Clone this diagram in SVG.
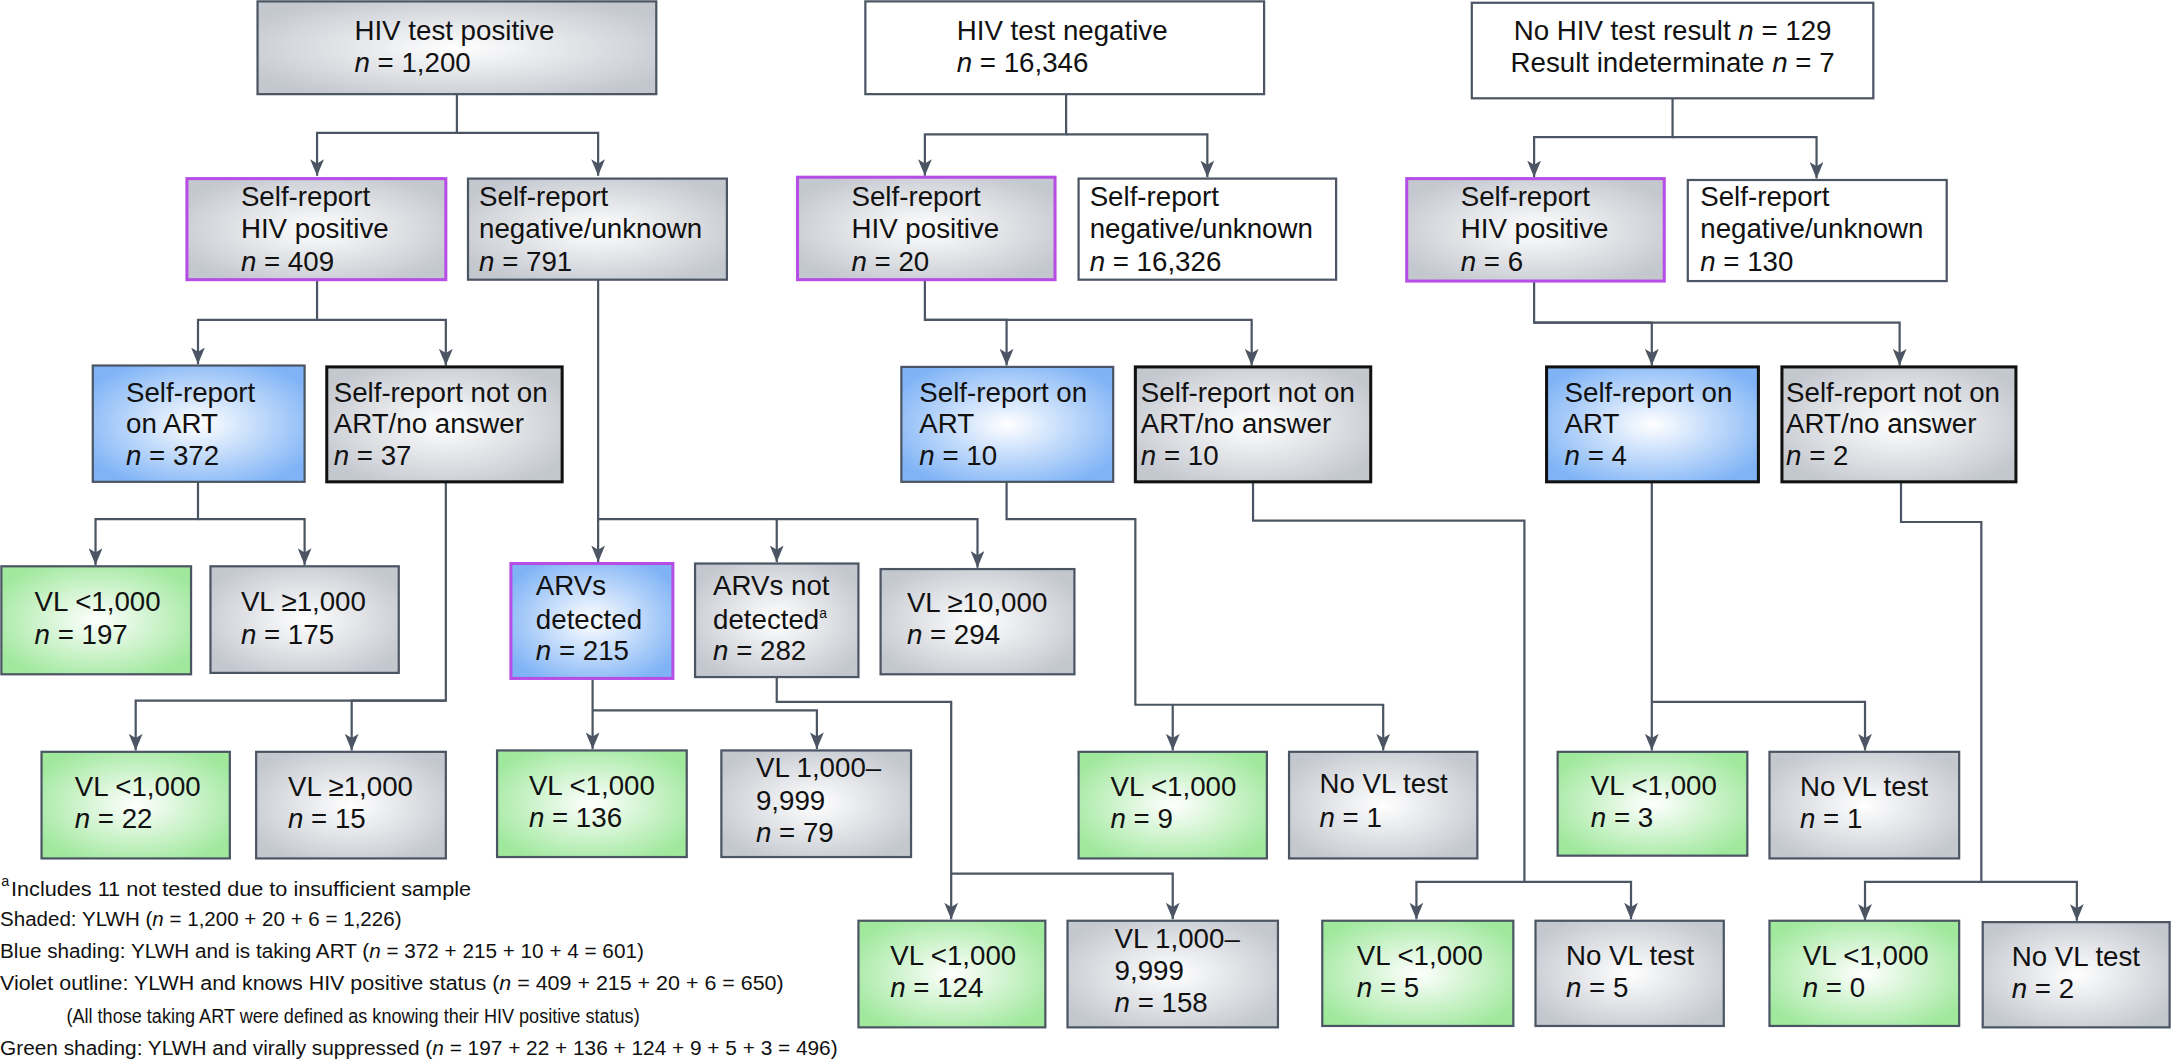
<svg xmlns="http://www.w3.org/2000/svg" width="2171" height="1061" viewBox="0 0 2171 1061">
<style>
text{font-family:"Liberation Sans",Arial,sans-serif;font-size:20px;fill:#111}
.i{font-style:italic}
.fn{font-size:15px}
.sup{font-size:10px}
rect{stroke-width:1.6}
.sl{stroke:#4b5563}
.vi{stroke:#b64ee6;stroke-width:2.2}
.bk{stroke:#111;stroke-width:2.2}
.g{fill:url(#gGray)}
.b{fill:url(#gBlue)}
.gr{fill:url(#gGreen)}
.w{fill:#fff}
#conn path{fill:none;stroke:#4b5563;stroke-width:1.6;marker-end:url(#ar)}
</style>
<defs>
<radialGradient id="gGray" cx="0.5" cy="0.5" r="0.6"><stop offset="0" stop-color="#ffffff"/><stop offset="1" stop-color="#c3c7ce"/></radialGradient>
<radialGradient id="gBlue" cx="0.5" cy="0.5" r="0.6"><stop offset="0" stop-color="#ffffff"/><stop offset="1" stop-color="#7fb3f6"/></radialGradient>
<radialGradient id="gGreen" cx="0.5" cy="0.5" r="0.6"><stop offset="0" stop-color="#ffffff"/><stop offset="1" stop-color="#9fe89c"/></radialGradient>
<marker id="ar" markerUnits="userSpaceOnUse" markerWidth="12" markerHeight="10" viewBox="0 0 12 10" refX="12" refY="5" orient="auto"><path d="M0 0 L12 5 L0 10 L3 5 Z" fill="#4b5563"/></marker>
</defs>
<g transform="scale(1.38457)">
<g id="conn">
<path d="M330 68 V96 H229 V127"/><path d="M330 96 H432 V127"/>
<path d="M770 68 V97 H668 V127"/><path d="M770 97 H872 V128"/>
<path d="M1208 71 V99 H1108 V128"/><path d="M1208 99 H1312 V129"/>
<path d="M229 202 V231 H143 V263"/><path d="M229 231 H322 V264"/>
<path d="M668 202 V231 H727 V264"/><path d="M668 231 H904 V264"/>
<path d="M1108 203 V233 H1193 V264"/><path d="M1108 233 H1372 V264"/>
<path d="M143 348 V375 H69 V408"/><path d="M143 375 H220 V408"/>
<path d="M432 202 V406"/><path d="M432 375 H561 V406"/><path d="M561 375 H706 V410"/>
<path d="M322 348 V506 H98 V542"/><path d="M322 506 H254 V542"/>
<path d="M428 490 V541"/><path d="M428 513 H590 V541"/>
<path d="M561 489 V507 H687 V664"/><path d="M687 631 H847 V664"/>
<path d="M727 348 V375 H820 V509 H847 V542"/><path d="M847 509 H999 V542"/>
<path d="M905 348 V376 H1101 V637 H1023 V664"/><path d="M1101 637 H1178 V664"/>
<path d="M1193 348 V542"/><path d="M1193 507 H1347 V542"/>
<path d="M1373 348 V377 H1431 V637 H1347 V665"/><path d="M1431 637 H1500 V665"/>
</g>
<g id="n_pos"><rect x="186" y="1" width="288" height="67" class="g sl"/><text x="256" y="29">HIV test positive</text><text x="256" y="52"><tspan class="i">n</tspan> = 1,200</text></g>
<g id="n_neg"><rect x="625" y="1" width="288" height="67" class="w sl"/><text x="691" y="29">HIV test negative</text><text x="691" y="52"><tspan class="i">n</tspan> = 16,346</text></g>
<g id="n_none"><rect x="1063" y="2" width="290" height="69" class="w sl"/><text x="1208" y="29" text-anchor="middle">No HIV test result <tspan class="i">n</tspan> = 129</text><text x="1208" y="52" text-anchor="middle">Result indeterminate <tspan class="i">n</tspan> = 7</text></g>
<g id="n_srp1"><rect x="135" y="129" width="187" height="73" class="g vi"/><text x="174" y="149">Self-report</text><text x="174" y="172">HIV positive</text><text x="174" y="196"><tspan class="i">n</tspan> = 409</text></g>
<g id="n_srn1"><rect x="338" y="129" width="187" height="73" class="g sl"/><text x="346" y="149">Self-report</text><text x="346" y="172">negative/unknown</text><text x="346" y="196"><tspan class="i">n</tspan> = 791</text></g>
<g id="n_srp2"><rect x="576" y="128" width="186" height="74" class="g vi"/><text x="615" y="149">Self-report</text><text x="615" y="172">HIV positive</text><text x="615" y="196"><tspan class="i">n</tspan> = 20</text></g>
<g id="n_srn2"><rect x="779" y="129" width="186" height="73" class="w sl"/><text x="787" y="149">Self-report</text><text x="787" y="172">negative/unknown</text><text x="787" y="196"><tspan class="i">n</tspan> = 16,326</text></g>
<g id="n_srp3"><rect x="1016" y="129" width="186" height="74" class="g vi"/><text x="1055" y="149">Self-report</text><text x="1055" y="172">HIV positive</text><text x="1055" y="196"><tspan class="i">n</tspan> = 6</text></g>
<g id="n_srn3"><rect x="1219" y="130" width="187" height="73" class="w sl"/><text x="1228" y="149">Self-report</text><text x="1228" y="172">negative/unknown</text><text x="1228" y="196"><tspan class="i">n</tspan> = 130</text></g>
<g id="n_art1"><rect x="67" y="264" width="153" height="84" class="b sl"/><text x="91" y="290">Self-report</text><text x="91" y="313">on ART</text><text x="91" y="336"><tspan class="i">n</tspan> = 372</text></g>
<g id="n_nart1"><rect x="236" y="265" width="170" height="83" class="g bk"/><text x="241" y="290">Self-report not on</text><text x="241" y="313">ART/no answer</text><text x="241" y="336"><tspan class="i">n</tspan> = 37</text></g>
<g id="n_art2"><rect x="651" y="265" width="153" height="83" class="b sl"/><text x="664" y="290">Self-report on</text><text x="664" y="313">ART</text><text x="664" y="336"><tspan class="i">n</tspan> = 10</text></g>
<g id="n_nart2"><rect x="820" y="265" width="170" height="83" class="g bk"/><text x="824" y="290">Self-report not on</text><text x="824" y="313">ART/no answer</text><text x="824" y="336"><tspan class="i">n</tspan> = 10</text></g>
<g id="n_art3"><rect x="1117" y="265" width="153" height="83" class="b bk"/><text x="1130" y="290">Self-report on</text><text x="1130" y="313">ART</text><text x="1130" y="336"><tspan class="i">n</tspan> = 4</text></g>
<g id="n_nart3"><rect x="1287" y="265" width="169" height="83" class="g bk"/><text x="1290" y="290">Self-report not on</text><text x="1290" y="313">ART/no answer</text><text x="1290" y="336"><tspan class="i">n</tspan> = 2</text></g>
<g id="n_vl197"><rect x="1" y="409" width="137" height="78" class="gr sl"/><text x="25" y="441">VL &lt;1,000</text><text x="25" y="465"><tspan class="i">n</tspan> = 197</text></g>
<g id="n_vl175"><rect x="152" y="409" width="136" height="77" class="g sl"/><text x="174" y="441">VL ≥1,000</text><text x="174" y="465"><tspan class="i">n</tspan> = 175</text></g>
<g id="n_arvd"><rect x="369" y="407" width="117" height="83" class="b vi"/><text x="387" y="430">ARVs</text><text x="387" y="454">detected</text><text x="387" y="477"><tspan class="i">n</tspan> = 215</text></g>
<g id="n_arvn"><rect x="502" y="407" width="118" height="82" class="g sl"/><text x="515" y="430">ARVs not</text><text x="515" y="454">detected<tspan class="sup" dy="-8">a</tspan></text><text x="515" y="477"><tspan class="i">n</tspan> = 282</text></g>
<g id="n_vl10k"><rect x="636" y="411" width="140" height="76" class="g sl"/><text x="655" y="442">VL ≥10,000</text><text x="655" y="465"><tspan class="i">n</tspan> = 294</text></g>
<g id="n_vl22"><rect x="30" y="543" width="136" height="77" class="gr sl"/><text x="54" y="575">VL &lt;1,000</text><text x="54" y="598"><tspan class="i">n</tspan> = 22</text></g>
<g id="n_vl15"><rect x="185" y="543" width="137" height="77" class="g sl"/><text x="208" y="575">VL ≥1,000</text><text x="208" y="598"><tspan class="i">n</tspan> = 15</text></g>
<g id="n_vl136"><rect x="359" y="542" width="137" height="77" class="gr sl"/><text x="382" y="574">VL &lt;1,000</text><text x="382" y="597"><tspan class="i">n</tspan> = 136</text></g>
<g id="n_vl79"><rect x="521" y="542" width="137" height="77" class="g sl"/><text x="546" y="561">VL 1,000–</text><text x="546" y="585">9,999</text><text x="546" y="608"><tspan class="i">n</tspan> = 79</text></g>
<g id="n_vl9"><rect x="779" y="543" width="136" height="77" class="gr sl"/><text x="802" y="575">VL &lt;1,000</text><text x="802" y="598"><tspan class="i">n</tspan> = 9</text></g>
<g id="n_novl1"><rect x="931" y="543" width="136" height="77" class="g sl"/><text x="953" y="573">No VL test</text><text x="953" y="597"><tspan class="i">n</tspan> = 1</text></g>
<g id="n_vl3"><rect x="1125" y="543" width="137" height="75" class="gr sl"/><text x="1149" y="574">VL &lt;1,000</text><text x="1149" y="597"><tspan class="i">n</tspan> = 3</text></g>
<g id="n_novl1b"><rect x="1278" y="543" width="137" height="77" class="g sl"/><text x="1300" y="575">No VL test</text><text x="1300" y="598"><tspan class="i">n</tspan> = 1</text></g>
<g id="n_vl124"><rect x="620" y="665" width="135" height="77" class="gr sl"/><text x="643" y="697">VL &lt;1,000</text><text x="643" y="720"><tspan class="i">n</tspan> = 124</text></g>
<g id="n_vl158"><rect x="771" y="665" width="152" height="77" class="g sl"/><text x="805" y="685">VL 1,000–</text><text x="805" y="708">9,999</text><text x="805" y="731"><tspan class="i">n</tspan> = 158</text></g>
<g id="n_vl5"><rect x="955" y="665" width="138" height="76" class="gr sl"/><text x="980" y="697">VL &lt;1,000</text><text x="980" y="720"><tspan class="i">n</tspan> = 5</text></g>
<g id="n_novl5"><rect x="1109" y="665" width="136" height="76" class="g sl"/><text x="1131" y="697">No VL test</text><text x="1131" y="720"><tspan class="i">n</tspan> = 5</text></g>
<g id="n_vl0"><rect x="1278" y="665" width="137" height="76" class="gr sl"/><text x="1302" y="697">VL &lt;1,000</text><text x="1302" y="720"><tspan class="i">n</tspan> = 0</text></g>
<g id="n_novl2"><rect x="1432" y="666" width="135" height="76" class="g sl"/><text x="1453" y="698">No VL test</text><text x="1453" y="721"><tspan class="i">n</tspan> = 2</text></g>
<g id="notes">
<text x="8" y="647" class="fn" textLength="338" lengthAdjust="spacingAndGlyphs"><tspan class="sup" x="1" dy="-7">a</tspan><tspan x="8" dy="7">Includes 11 not tested due to insufficient sample</tspan></text>
<text x="0" y="669" class="fn" textLength="290" lengthAdjust="spacingAndGlyphs">Shaded: YLWH (<tspan class="i">n</tspan> = 1,200 + 20 + 6 = 1,226)</text>
<text x="0" y="692" class="fn" textLength="465" lengthAdjust="spacingAndGlyphs">Blue shading: YLWH and is taking ART (<tspan class="i">n</tspan> = 372 + 215 + 10 + 4 = 601)</text>
<text x="0" y="715" class="fn" textLength="566" lengthAdjust="spacingAndGlyphs">Violet outline: YLWH and knows HIV positive status (<tspan class="i">n</tspan> = 409 + 215 + 20 + 6 = 650)</text>
<text x="48" y="739" class="fn" textLength="414" lengthAdjust="spacingAndGlyphs">(All those taking ART were defined as knowing their HIV positive status)</text>
<text x="0" y="762" class="fn" textLength="605" lengthAdjust="spacingAndGlyphs">Green shading: YLWH and virally suppressed (<tspan class="i">n</tspan> = 197 + 22 + 136 + 124 + 9 + 5 + 3 = 496)</text>
</g>
</g>
</svg>
